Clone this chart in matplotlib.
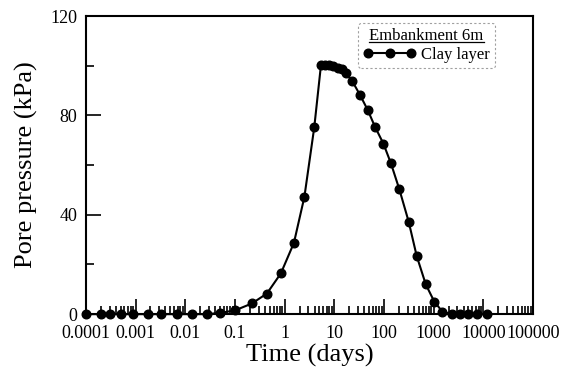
import matplotlib
matplotlib.use("Agg")
import matplotlib.pyplot as plt
from matplotlib.lines import Line2D
from matplotlib.ticker import FixedLocator, LogLocator, FuncFormatter, NullFormatter

plt.rcParams["font.family"] = ["Liberation Serif", "DejaVu Serif"]

# -----------------------------
# Data
# -----------------------------
time_days = [0.0001, 0.0002, 0.0003, 0.0005, 0.0009, 0.0018, 0.0033, 0.0068,
             0.014, 0.027, 0.05, 0.1, 0.22, 0.44, 0.84, 1.54, 2.5, 3.95,
             5.4, 6.5, 7.9, 9.6, 11.7, 14.1, 17.0, 23, 33, 47, 66, 97, 138,
             204, 314, 455, 692, 1030, 1500, 2300, 3400, 5000, 7400, 11700]
pore_pressure = [0, 0, 0, 0, 0, 0, 0, 0,
                 0, 0, 0.5, 1.5, 4.3, 8.3, 16.4, 28.7, 47.2, 75.2,
                 100.4, 100.3, 100.2, 99.9, 99.3, 98.5, 97.0, 93.8, 88.2, 82.2, 75.4, 68.7, 60.7,
                 50.2, 37.2, 23.4, 12.0, 5.0, 1.0, 0, 0, 0, 0, 0]

x_decades = [1e-4, 1e-3, 1e-2, 1e-1, 1, 10, 100, 1000, 1e4, 1e5]
x_tick_labels = ["0.0001", "0.001", "0.01", "0.1", "1", "10", "100", "1000", "10000", "100000"]
y_major = [0, 40, 80, 120]
y_minor = [20, 60, 100]

fig = plt.figure(figsize=(5.72, 3.74), dpi=100)
ax = fig.add_axes([0.150, 0.160, 0.782, 0.797])

ax.plot(time_days, pore_pressure, color="black", linewidth=1.5,
        marker="o", markersize=6.2, label="Clay layer", clip_on=False, zorder=3)

ax.set_xscale("log")
ax.set_xlim(1e-4, 1e5)
ax.set_ylim(0, 120)

ax.xaxis.set_major_locator(FixedLocator(x_decades))
ax.xaxis.set_major_formatter(FuncFormatter(
    lambda v, pos: x_tick_labels[pos] if pos is not None and pos < len(x_tick_labels) else ""))
ax.xaxis.set_minor_locator(LogLocator(base=10, subs=range(2, 10), numticks=20))
ax.xaxis.set_minor_formatter(NullFormatter())
ax.yaxis.set_major_locator(FixedLocator(y_major))
ax.yaxis.set_minor_locator(FixedLocator(y_minor))

ax.tick_params(axis="both", which="both", direction="in", top=False, right=False,
               labelsize=13, width=1.2)
ax.tick_params(axis="x", which="major", length=11, pad=8)
ax.tick_params(axis="x", which="minor", length=6)
ax.tick_params(axis="y", which="major", length=11, pad=6)
ax.tick_params(axis="y", which="minor", length=6)

for spine in ax.spines.values():
    spine.set_linewidth(1.5)

ax.set_xlabel("Time (days)", fontsize=19, labelpad=1)
ax.set_ylabel("Pore pressure (kPa)", fontsize=19, labelpad=9)

leg = ax.legend(loc="upper right", bbox_to_anchor=(0.915, 0.977), borderaxespad=0,
                title="Embankment 6m", title_fontsize=12,
                fontsize=12, numpoints=3, handlelength=3.2, handletextpad=0.3,
                fancybox=True, frameon=True, borderpad=0.3, labelspacing=0.2)
leg.get_frame().set_linestyle((0, (2, 2)))
leg.get_frame().set_edgecolor("#888888")
leg.get_frame().set_linewidth(0.8)

# underline the legend title
fig.canvas.draw()
bb = leg.get_title().get_window_extent().transformed(fig.transFigure.inverted())
y_line = bb.y0 + 0.004
fig.add_artist(Line2D([bb.x0, bb.x1], [y_line, y_line], transform=fig.transFigure,
                      color="black", linewidth=0.9))

fig.savefig("out.png", dpi=100)
